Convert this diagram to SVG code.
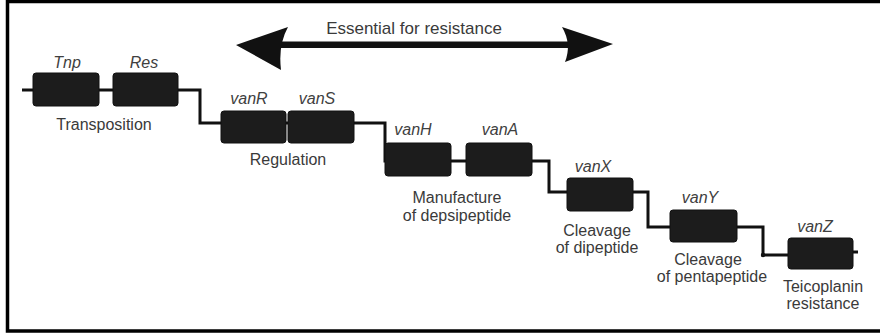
<svg xmlns="http://www.w3.org/2000/svg" width="880" height="336" viewBox="0 0 880 336">
<style>
.gene{fill:#1c1c1c;stroke:#111;stroke-width:1}
.gl{font-family:"Liberation Sans",Arial,sans-serif;font-size:16px;font-style:italic;fill:#404040;text-anchor:middle}
.fl{font-family:"Liberation Sans",Arial,sans-serif;font-size:16px;fill:#3a3a3a;text-anchor:middle}
.wire{fill:none;stroke:#111;stroke-width:3}
</style>
<rect width="880" height="336" fill="#fff"/>
<path d="M880,1.5 H7.5 V331 H880" fill="none" stroke="#000" stroke-width="3.5"/>
<g id="range-arrow">
<rect x="278" y="41.5" width="292" height="6.5" fill="#111"/>
<path d="M236,45 L288,27 Q278,45 281,70 Z" fill="#111"/>
<path d="M613,44 L562,27 Q572,44 565,62 Z" fill="#111"/>
<text class="fl" x="414" y="34" style="font-size:17px">Essential for resistance</text>
</g>
<g id="connectors">
<path class="wire" d="M22,90 H200 V123 H385 V161 H549 V192 H648 V227 H763 V255 H790"/>
<path class="wire" d="M851,252 H858"/>
<circle cx="763" cy="255" r="2.2" fill="#111"/>
</g>
<g id="tnp"><rect class="gene" x="33" y="73" width="66" height="33" rx="3"/><text class="gl" x="67" y="68">Tnp</text></g>
<g id="res"><rect class="gene" x="113" y="73" width="65" height="33" rx="3"/><text class="gl" x="144" y="68">Res</text></g>
<g id="transposition"><text class="fl" x="104" y="130">Transposition</text></g>
<g id="vanR"><rect class="gene" x="221" y="111" width="65" height="32" rx="3"/><text class="gl" x="249" y="104">vanR</text></g>
<g id="vanS"><rect class="gene" x="288" y="111" width="66" height="32" rx="3"/><text class="gl" x="317" y="104">vanS</text></g>
<g id="regulation"><text class="fl" x="288" y="165">Regulation</text></g>
<g id="vanH"><rect class="gene" x="385" y="143" width="66" height="33" rx="3"/><text class="gl" x="413" y="135">vanH</text></g>
<g id="vanA"><rect class="gene" x="466" y="143" width="66" height="33" rx="3"/><text class="gl" x="500" y="135">vanA</text></g>
<g id="manufacture"><text class="fl" x="457" y="203">Manufacture</text><text class="fl" x="457" y="221">of depsipeptide</text></g>
<g id="vanX"><rect class="gene" x="567" y="178" width="66" height="33" rx="3"/><text class="gl" x="593" y="172">vanX</text></g>
<g id="cleavage-di"><text class="fl" x="597" y="236">Cleavage</text><text class="fl" x="597" y="253">of dipeptide</text></g>
<g id="vanY"><rect class="gene" x="670" y="210" width="67" height="32" rx="3"/><text class="gl" x="700" y="203">vanY</text></g>
<g id="cleavage-penta"><text class="fl" x="708" y="265">Cleavage</text><text class="fl" x="712" y="282">of pentapeptide</text></g>
<g id="vanZ"><rect class="gene" x="788" y="238" width="65" height="31" rx="3"/><text class="gl" x="815" y="232">vanZ</text></g>
<g id="teicoplanin"><text class="fl" x="823" y="292">Teicoplanin</text><text class="fl" x="823" y="309">resistance</text></g>
</svg>
